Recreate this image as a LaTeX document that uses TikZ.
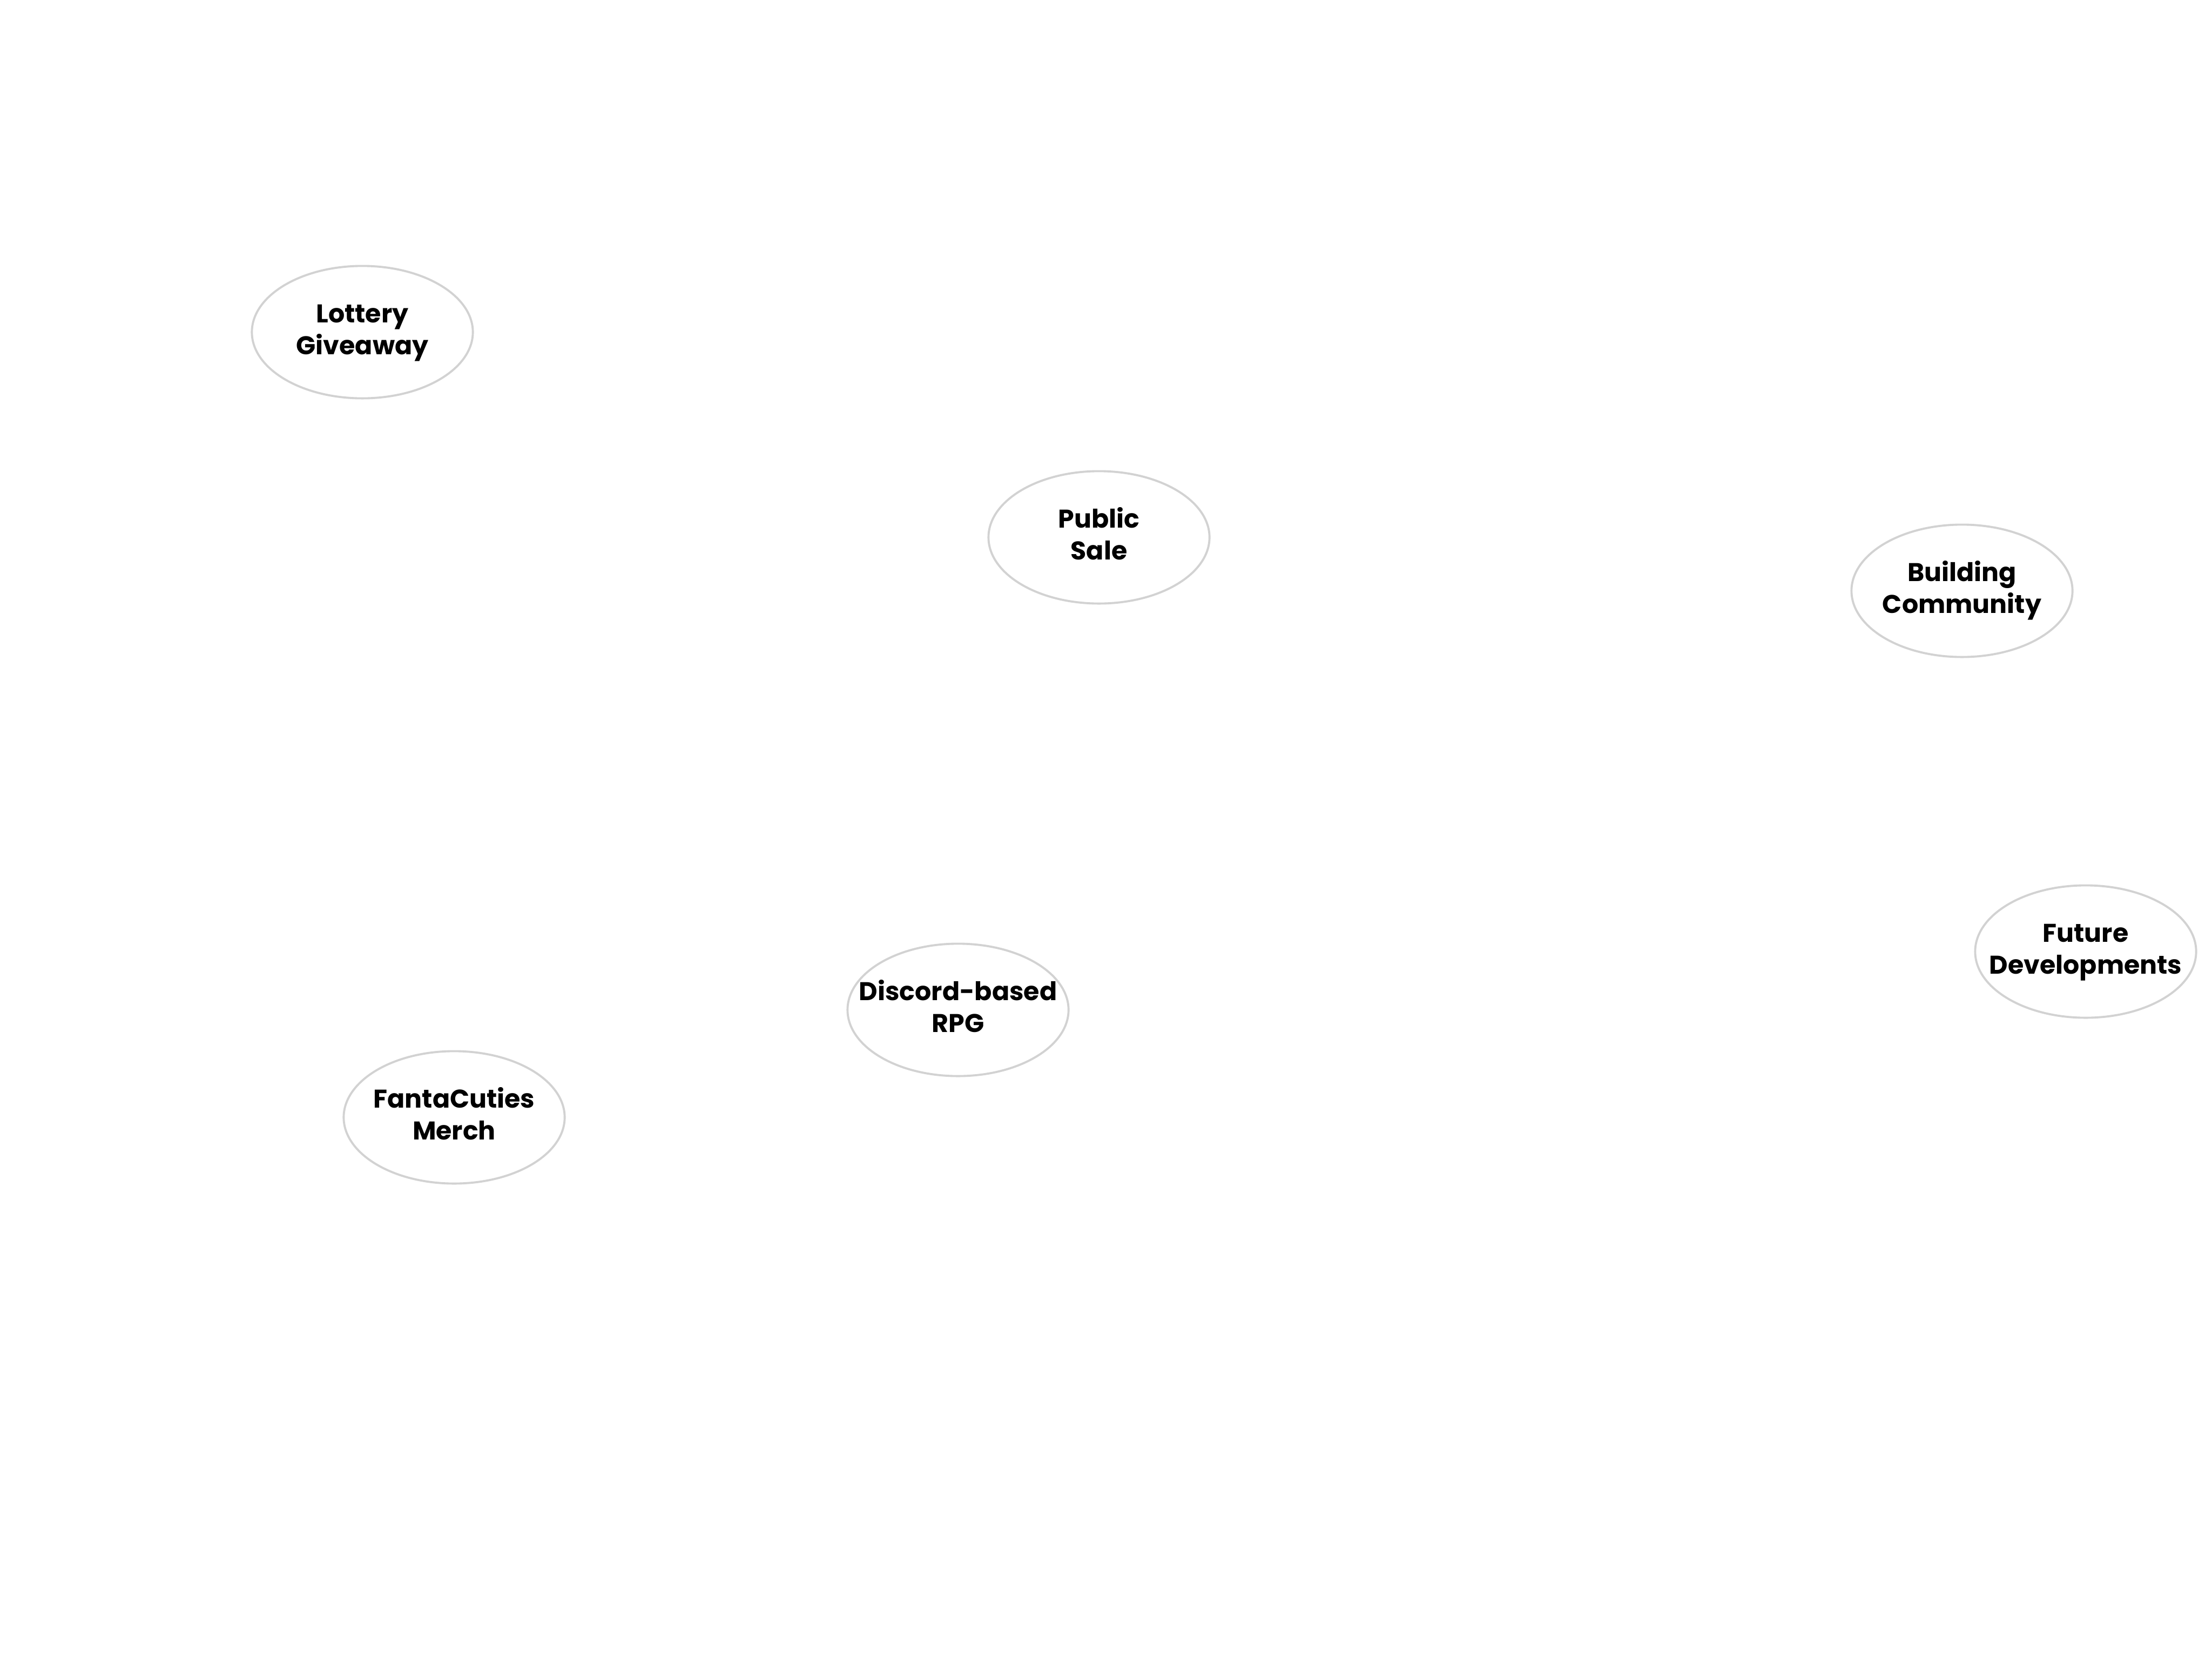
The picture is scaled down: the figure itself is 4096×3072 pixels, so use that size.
\documentclass[tikz,border=0pt]{standalone}
\usepackage{fontspec}
\setmainfont{Poppins}
\usetikzlibrary{shapes.geometric}
\definecolor{ringgray}{HTML}{D2D2D2}
\newcommand{\twolines}[2]{\makebox[0pt][c]{\begin{tabular}{@{}c@{}}#1\\#2\end{tabular}}}
\tikzset{
  bubble/.style={ellipse, draw=ringgray, line width=1.1pt, fill=white,
    minimum width=4.09cm, minimum height=2.45cm, inner sep=0pt,
    font=\bfseries\fontsize{13.5}{16.8}\selectfont, text=black}
}
\begin{document}
\begin{tikzpicture}[x=0.01cm, y=-0.01cm]
\useasboundingbox (0,0) rectangle (4096,3072);
\node[bubble] (lottery) at (671,615) {\twolines{Lottery}{Giveaway}};
\node[bubble] (public) at (2035,995) {\twolines{Public}{Sale}};
\node[bubble] (building) at (3633,1094) {\twolines{Building}{Community}};
\node[bubble] (future) at (3862,1762) {\twolines{Future}{Developments}};
\node[bubble] (discord) at (1774,1870) {\twolines{Discord-based}{RPG}};
\node[bubble] (merch) at (841,2069) {\twolines{FantaCuties}{Merch}};
\end{tikzpicture}
\end{document}
